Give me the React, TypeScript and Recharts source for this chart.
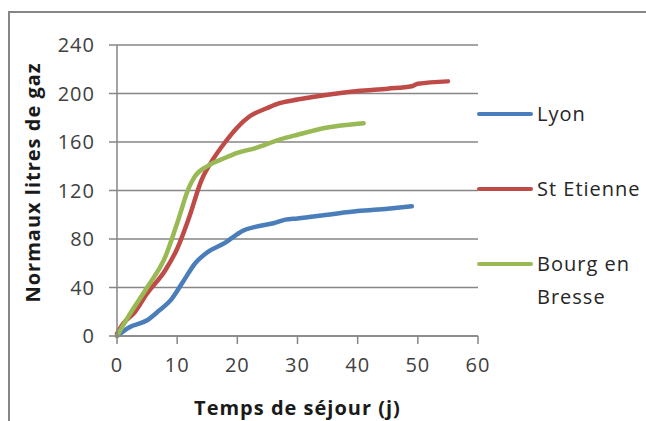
import { LineChart, Line, XAxis, YAxis, CartesianGrid, Legend, Label } from "recharts";

const dayTicks = [0, 10, 20, 30, 40, 50, 60];
const gasTicks = [0, 40, 80, 120, 160, 200, 240];

const lyonDays = [0, 2, 5, 7, 9, 11, 13, 15, 18, 20, 21, 23, 26, 28, 30, 35, 40, 45, 49];
const lyonGas = [0, 7, 13, 21, 30, 45, 60, 69, 77, 84, 87, 90, 93, 96, 97, 100, 103, 105, 107];

const stEtienneDays = [0, 1, 3, 5, 8, 10, 12, 14, 16, 18, 20, 22, 25, 27, 30, 35, 40, 45, 49, 50, 55];
const stEtienneGas = [2, 10, 20, 35, 54, 72, 98, 128, 146, 160, 172, 181, 188, 192, 195, 199, 202, 204, 206, 208, 210];

const bourgDays = [0, 2, 5, 8, 10, 12, 13, 15, 18, 20, 23, 27, 30, 35, 38, 41];
const bourgGas = [0, 17, 40, 65, 93, 123, 132, 140, 147, 151, 155, 162, 166, 172, 174, 175.5];

const toPoints = (days: number[], gas: number[]) =>
  days.map((day, i) => ({ day, gas: gas[i] }));

const series = [
  { name: "Lyon", color: "#4a7ebb", data: toPoints(lyonDays, lyonGas) },
  { name: "St Etienne", color: "#be4b48", data: toPoints(stEtienneDays, stEtienneGas) },
  { name: "Bourg en Bresse", color: "#98b954", data: toPoints(bourgDays, bourgGas) },
];

const gridColor = "#868686";

function ChartLegend() {
  return (
    <div style={{ position: "relative", width: 170, height: 230 }}>
      {series.map((s, i) => (
        <div
          key={s.name}
          style={{ position: "absolute", top: i * 75, left: 0, display: "flex", alignItems: "flex-start" }}
        >
          <span
            style={{ display: "block", width: 56, height: 4, marginTop: 14.5, background: s.color, borderRadius: 2 }}
          />
          <span
            style={{ width: 112, marginLeft: 4, lineHeight: "33px", fontSize: 20, letterSpacing: 1, color: "#262626" }}
          >
            {s.name}
          </span>
        </div>
      ))}
    </div>
  );
}

export default function App() {
  return (
    <>
      <style>{"body{margin:0;overflow:hidden;background:#fff}"}</style>
      <div
        style={{
          position: "absolute",
          left: 8,
          top: 11,
          width: 638,
          height: 410,
          boxSizing: "border-box",
          borderLeft: `2px solid ${gridColor}`,
          borderTop: `2px solid ${gridColor}`,
          fontFamily: "'Open Sans', sans-serif",
          background: "#fff",
        }}
      >
        <LineChart width={636} height={408} margin={{ top: 32, right: 168, left: 7, bottom: 0 }}>
          <CartesianGrid vertical={false} stroke={gridColor} strokeWidth={1.5} />
          <XAxis
            dataKey="day"
            type="number"
            domain={[0, 60]}
            ticks={dayTicks}
            height={85}
            tickSize={8}
            tickMargin={14}
            axisLine={{ stroke: gridColor, strokeWidth: 1.5 }}
            tickLine={{ stroke: gridColor, strokeWidth: 1.5 }}
            tick={{ fill: "#404040", fontSize: 20, letterSpacing: 1 }}
            allowDuplicatedCategory={false}
          >
            <Label
              value="Temps de séjour (j)"
              position="center"
              dy={29.5}
              fill="#1a1a1a"
              fontSize={20}
              fontWeight="bold"
              letterSpacing={1}
            />
          </XAxis>
          <YAxis
            dataKey="gas"
            type="number"
            domain={[0, 240]}
            ticks={gasTicks}
            width={100}
            tickSize={8}
            tickMargin={14}
            axisLine={{ stroke: gridColor, strokeWidth: 1.5 }}
            tickLine={{ stroke: gridColor, strokeWidth: 1.5 }}
            tick={{ fill: "#404040", fontSize: 20, letterSpacing: 1 }}
          >
            <Label
              value="Normaux litres de gaz"
              angle={-90}
              position="center"
              dx={-34}
              dy={-8}
              fill="#1a1a1a"
              fontSize={20}
              fontWeight="bold"
              letterSpacing={1}
            />
          </YAxis>
          <Legend
            layout="horizontal"
            align="center"
            verticalAlign="middle"
            content={() => <ChartLegend />}
            wrapperStyle={{ left: 467, top: 84, width: 170 }}
          />
          {series.map((s) => (
            <Line
              key={s.name}
              data={s.data}
              dataKey="gas"
              name={s.name}
              type="monotone"
              stroke={s.color}
              strokeWidth={4.5}
              strokeLinecap="round"
              dot={false}
              activeDot={false}
              isAnimationActive={false}
            />
          ))}
        </LineChart>
      </div>
    </>
  );
}
